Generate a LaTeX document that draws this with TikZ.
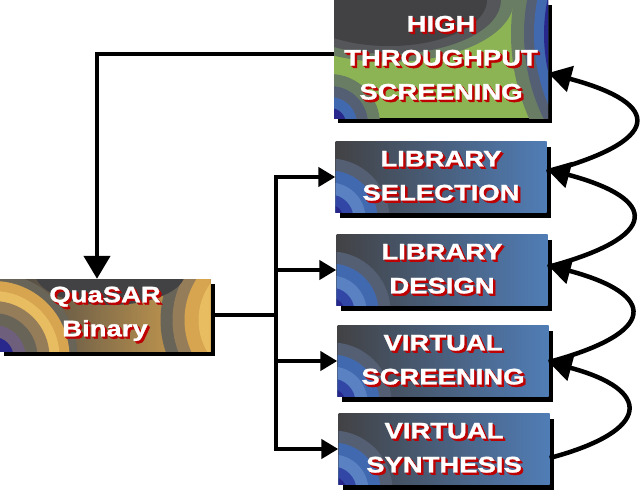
\documentclass[tikz,border=0pt]{standalone}
\usepackage{fontspec}
\usepackage{tikz}
\usetikzlibrary{arrows.meta,shadows}
\newfontfamily\boxfont{Liberation Sans}[FakeStretch=1.22, BoldFeatures={FakeBold=1.2}]

\definecolor{boxgrey}{RGB}{66,66,68}
\definecolor{midgrey}{RGB}{84,86,90}
\definecolor{steelblue}{RGB}{80,125,182}
\definecolor{greyblue}{RGB}{85,95,115}
\definecolor{midblue}{RGB}{65,105,175}
\definecolor{lightblue}{RGB}{90,130,195}
\definecolor{deepblue}{RGB}{50,70,165}
\definecolor{navyblue}{RGB}{40,40,140}
\definecolor{htsgreen}{RGB}{140,180,84}
\definecolor{greygreen}{RGB}{105,125,100}
\definecolor{gold}{RGB}{215,165,80}
\definecolor{lightgold}{RGB}{232,188,96}
\definecolor{tan}{RGB}{150,125,90}
\definecolor{olive}{RGB}{105,100,88}
\definecolor{purplegrey}{RGB}{110,95,125}
\definecolor{shadowred}{RGB}{190,0,0}

% white text with red extruded shadow
\newcommand{\redtxt}[1]{\leavevmode\rlap{\kern2.4pt\raisebox{-2.4pt}{\color{shadowred}#1}}\rlap{\kern1.2pt\raisebox{-1.2pt}{\color{shadowred}#1}}#1}

\tikzset{
  box/.style={rectangle, inner sep=0pt, text=white, align=center,
    font=\boxfont\bfseries\fontsize{22.5}{34}\selectfont,
    drop shadow={shadow xshift=4pt, shadow yshift=-5pt, fill=black, opacity=1}},
  libbox/.style={box, minimum width=211pt, minimum height=71pt,
    path picture={
      \shade[left color=boxgrey, middle color=midgrey, right color=steelblue]
        (path picture bounding box.south west) rectangle (path picture bounding box.north east);
      \foreach \r/\col in {60/greyblue, 48/midblue, 36/lightblue, 24/deepblue, 14/navyblue}
        \fill[\col] ([shift={(-6pt,-6pt)}]path picture bounding box.south west) circle (\r pt);
    }},
  htsbox/.style={box, minimum width=214pt, minimum height=118pt,
    path picture={
      \fill[htsgreen] (path picture bounding box.south west) rectangle (path picture bounding box.north east);
      % grey patch top left
      \foreach \rx/\ry/\col in {125/62/greygreen, 112/54/midgrey, 98/46/boxgrey}
        \fill[\col] ([shift={(55pt,0pt)}]path picture bounding box.north west) ellipse [x radius=\rx pt, y radius=\ry pt];
      % blue corner bottom left
      \foreach \r/\col in {50/greygreen, 38/greyblue, 27/midblue, 16/navyblue}
        \fill[\col] ([shift={(-4pt,-6pt)}]path picture bounding box.south west) circle (\r pt);
      % blue band right
      \foreach \r/\col in {205/greygreen, 192/greyblue, 182/midblue, 172/navyblue}
        \fill[\col] ([shift={(168pt,25pt)}]path picture bounding box.east) circle (\r pt);
    }},
  quabox/.style={box, minimum width=211pt, minimum height=72pt,
    path picture={
      \shade[left color=boxgrey, middle color=boxgrey, right color=gold]
        (path picture bounding box.south west) rectangle (path picture bounding box.north east);
      \foreach \r/\col in {100/olive, 88/tan, 76/gold, 62/lightgold}
        \fill[\col] ([shift={(50pt,-5pt)}]path picture bounding box.east) circle (\r pt);
      \foreach \r/\col in {84/olive, 76/gold, 66/lightgold, 56/tan, 44/olive, 32/purplegrey, 20/navyblue}
        \fill[\col] ([shift={(-6pt,-6pt)}]path picture bounding box.south west) circle (\r pt);
      \fill[boxgrey] ([shift={(5pt,6pt)}]path picture bounding box.north) ellipse [x radius=75pt, y radius=32pt];
    }},
  conn/.style={line width=4.5pt, black},
  bigtip/.tip={Triangle[length=23pt, width=26pt]},
  smalltip/.tip={Triangle[length=17pt, width=19pt]}
}

\begin{document}
\begin{tikzpicture}[x=1pt, y=-1pt]
  \useasboundingbox (0,0) rectangle (640,491);

  % boxes
  \node[htsbox] (hts) at (441,59) {\redtxt{HIGH}\\\redtxt{THROUGHPUT}\\\redtxt{SCREENING}};
  \node[libbox] (libsel) at (441,177) {\redtxt{LIBRARY}\\\redtxt{SELECTION}};
  \node[libbox] (libdes) at (442,270) {\redtxt{LIBRARY}\\\redtxt{DESIGN}};
  \node[libbox] (virscr) at (443,361) {\redtxt{VIRTUAL}\\\redtxt{SCREENING}};
  \node[libbox] (virsyn) at (444,449) {\redtxt{VIRTUAL}\\\redtxt{SYNTHESIS}};
  \node[quabox] (quasar) at (105,315) {\redtxt{QuaSAR}\\\redtxt{Binary}};

  % screening feeds QuaSAR
  \draw[conn, -{bigtip}] ([yshift=5pt]hts.west) -| ([xshift=-8pt]quasar.north);

  % QuaSAR to the library steps
  \coordinate (split) at (276,315);
  \draw[conn] (quasar.east) -- (split);
  \draw[conn, line cap=rect] (split |- libsel.west) -- (split |- virsyn.west);
  \foreach \n in {libsel, libdes, virscr, virsyn}
    \draw[conn, -{smalltip}] (split |- \n.west) -- (\n.west);

  % feedback loops on the right
  \draw[conn, -{bigtip}] ([yshift=5pt]libsel.east) to[out=15, in=-15, looseness=3.1] ([yshift=-14pt]hts.east);
  \draw[conn, -{bigtip}] ([yshift=3pt]libdes.east) to[out=15, in=-15, looseness=3.05] ([yshift=8pt]libsel.east);
  \draw[conn, -{bigtip}] ([yshift=-1pt]virscr.east) to[out=15, in=-15, looseness=3.0] ([yshift=5pt]libdes.east);
  \draw[conn, -{bigtip}] ([yshift=-9pt]virsyn.east) to[out=15, in=-15, looseness=2.85] ([yshift=-1pt]virscr.east);
\end{tikzpicture}
\end{document}
